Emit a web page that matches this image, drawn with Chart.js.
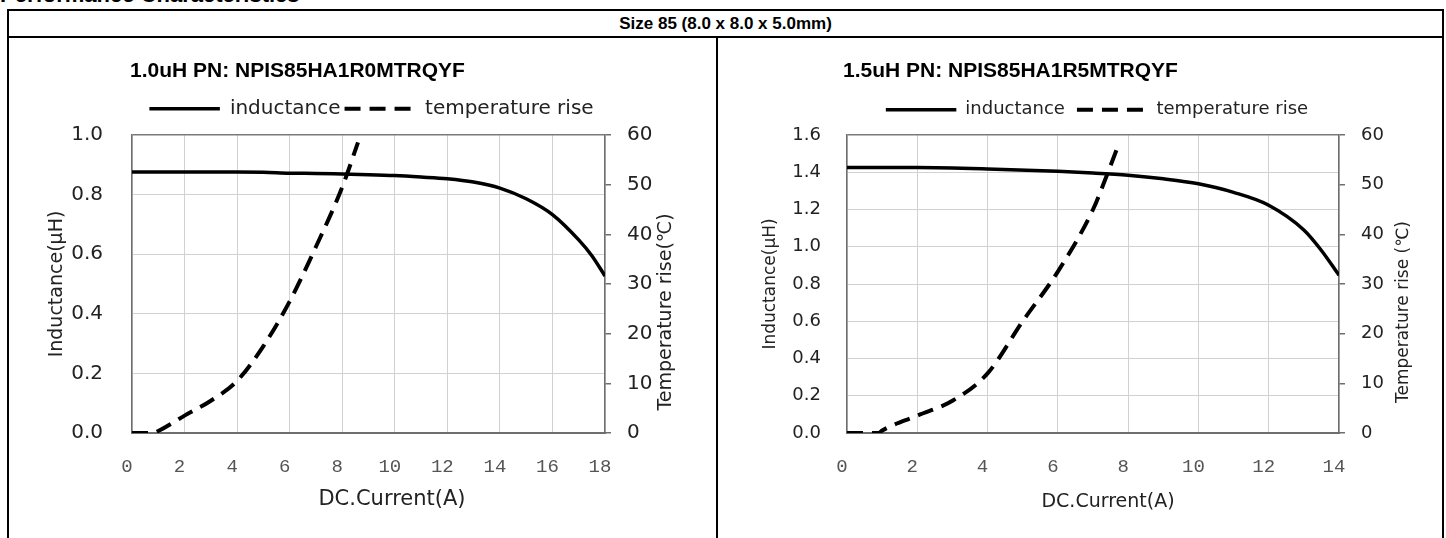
<!DOCTYPE html>
<html>
<head>
<meta charset="utf-8">
<title>Performance Characteristics</title>
<script src="https://cdn.jsdelivr.net/npm/chart.js@4.4.1/dist/chart.umd.min.js"></script>
<style>
  html, body { margin: 0; padding: 0; background: #fff; }
  #page { position: relative; width: 1446px; height: 538px; overflow: hidden; font-family: "Liberation Sans", Arial, sans-serif; color: #000; }
  .heading { position: absolute; left: 0; top: -16px; font-size: 22px; line-height: 22px; font-weight: bold; white-space: nowrap; }
  .frame { position: absolute; left: 7px; top: 9px; width: 1437px; height: 600px; border: 2px solid #000; box-sizing: border-box; background: #fff; }
  .hline { position: absolute; left: 7px; top: 36px; width: 1437px; height: 2px; background: #000; }
  .vline { position: absolute; left: 716px; top: 37px; width: 2px; height: 600px; background: #000; }
  .size { position: absolute; left: 7px; top: 14px; width: 1437px; text-align: center; font-size: 17px; line-height: 20px; font-weight: bold; }
  .ctitle { position: absolute; top: 59px; font-size: 21px; line-height: 22px; font-weight: bold; white-space: nowrap; }
  .panel { position: absolute; top: 37px; height: 501px; }
  .panel canvas { display: block; }
</style>
</head>
<body>
<div id="page">
  <div class="heading">Performance Characteristics</div>
  <div class="frame"></div>
  <div class="hline"></div>
  <div class="vline"></div>
  <div class="size">Size 85 (8.0 x 8.0 x 5.0mm)</div>
  <div class="panel" style="left:8px;width:708px"><canvas id="chartA" width="708" height="501"></canvas></div>
  <div class="panel" style="left:718px;width:724px"><canvas id="chartB" width="724" height="501"></canvas></div>
  <div class="ctitle" style="left:130px">1.0uH PN: NPIS85HA1R0MTRQYF</div>
  <div class="ctitle" style="left:843px">1.5uH PN: NPIS85HA1R5MTRQYF</div>
</div>
<script>
// 1.0uH part (left chart)
const currentA = [0, 2, 4, 5, 6, 7, 8, 9, 10, 11, 12, 13, 14, 15, 16, 17, 17.5, 18];
const inductanceA = [0.876, 0.876, 0.876, 0.875, 0.872, 0.871, 0.869, 0.867, 0.864, 0.859, 0.853, 0.842, 0.822, 0.786, 0.733, 0.648, 0.595, 0.527];
const tempCurrentA = [0, 0.8, 1, 2, 3, 4, 5, 6, 7, 8, 8.6];
const tempRiseA = [0, 0, 0.4, 3.5, 6.5, 10.5, 17.5, 26.5, 37.5, 49.5, 58.5];
const xTicksA = [0, 2, 4, 6, 8, 10, 12, 14, 16, 18];
const yTicksA = [0, 0.2, 0.4, 0.6, 0.8, 1.0];

// 1.5uH part (right chart)
const currentB = [0, 2, 4, 6, 7, 8, 9, 10, 11, 12, 13, 13.5, 14];
const inductanceB = [1.425, 1.425, 1.418, 1.405, 1.396, 1.384, 1.365, 1.338, 1.292, 1.223, 1.09, 0.98, 0.847];
const tempCurrentB = [0, 0.9, 1, 2, 3, 4, 5, 6, 7, 7.4, 7.75];
const tempRiseB = [0, 0, 0.5, 3.5, 6.5, 12, 22.5, 32.5, 45, 52, 58.5];
const xTicksB = [0, 2, 4, 6, 8, 10, 12, 14];
const yTicksB = [0, 0.2, 0.4, 0.6, 0.8, 1.0, 1.2, 1.4, 1.6];

const tempTicks = [0, 10, 20, 30, 40, 50, 60];

function points(xs, ys) {
    return xs.map((x, i) => ({ x: x, y: ys[i] }));
}

// x title sits a bit right of centre and the right title reads bottom-to-top,
// neither of which the built-in scale titles do, so draw them here
function axisTexts(items) {
    return {
        id: 'axisTexts',
        afterDraw(chart) {
            const ctx = chart.ctx;
            for (const t of items) {
                ctx.save();
                ctx.translate(t.x, t.y);
                if (t.vertical) ctx.rotate(-Math.PI / 2);
                ctx.font = t.size + 'px "DejaVu Sans"';
                ctx.fillStyle = '#222';
                ctx.textAlign = 'center';
                ctx.textBaseline = 'middle';
                ctx.fillText(t.text, 0, 0);
                ctx.restore();
            }
        }
    };
}

function buildChart(id, c) {
    const yMax = c.yTicks[c.yTicks.length - 1];
    return new Chart(document.getElementById(id), {
        type: 'line',
        data: {
            datasets: [{
                label: 'inductance',
                data: points(c.current, c.inductance),
                yAxisID: 'y',
                borderColor: '#000',
                backgroundColor: '#000',
                borderWidth: 3.5,
                pointRadius: 0,
                cubicInterpolationMode: 'monotone',
                fill: false
            },
            {
                label: 'temperature rise',
                data: points(c.tempCurrent, c.tempRise),
                yAxisID: 'y2',
                borderColor: '#000',
                backgroundColor: '#000',
                borderWidth: 4,
                borderDash: [16, 9],
                pointRadius: 0,
                cubicInterpolationMode: 'monotone',
                fill: false
            }]
        },
        plugins: [axisTexts([
            { text: 'DC.Current(A)', x: c.xTitleX, y: c.xTitleY, size: c.xTitleSize },
            { text: c.rightText, x: c.rightX, y: 275, size: c.axisTitleSize, vertical: true }
        ])],
        options: {
            responsive: false,
            animation: false,
            events: [],
            layout: { padding: { left: c.padLeft, top: 0, right: 0, bottom: 0 } },
            plugins: {
                title: { display: false },
                // empty subtitle below the legend, only used as a gap
                subtitle: {
                    display: true,
                    text: '',
                    weight: 500,
                    font: { size: 1 },
                    padding: { top: 5, bottom: 0 }
                },
                tooltip: { enabled: false },
                legend: {
                    position: 'top',
                    labels: {
                        // flat box so the dataset dash shows in the key
                        boxWidth: 70.5,
                        boxHeight: 0,
                        padding: c.legendPad,
                        color: '#222',
                        font: { family: 'DejaVu Sans', size: c.legendSize }
                    }
                }
            },
            scales: {
                x: {
                    type: 'linear',
                    min: 0,
                    max: c.xTicks[c.xTicks.length - 1],
                    afterBuildTicks: s => { s.ticks = c.xTicks.map(v => ({ value: v })); },
                    afterFit: s => { s.height = 105; },
                    grid: { color: '#d2d2d2', lineWidth: 1, drawTicks: false },
                    border: { color: '#6e6e6e', width: 2 },
                    ticks: {
                        font: { family: 'Liberation Mono', size: 19 },
                        color: '#555',
                        padding: 23,
                        labelOffset: -5,
                        maxRotation: 0
                    }
                },
                y: {
                    position: 'left',
                    min: 0,
                    max: yMax,
                    afterBuildTicks: s => { s.ticks = c.yTicks.map(v => ({ value: v })); },
                    afterFit: s => { s.width = c.yWidth; s.paddingTop = 98; },
                    grid: {
                        color: ctx => (ctx.tick && ctx.tick.value === yMax ? '#7a7a7a' : '#d2d2d2'),
                        lineWidth: ctx => (ctx.tick && ctx.tick.value === yMax ? 1.5 : 1),
                        drawTicks: false
                    },
                    border: { color: '#6e6e6e', width: 1.5 },
                    ticks: {
                        callback: v => v.toFixed(1),
                        color: '#222',
                        font: { family: 'DejaVu Sans', size: c.tickSize },
                        padding: c.yPad
                    },
                    title: {
                        display: true,
                        text: 'Inductance(μH)',
                        color: '#222',
                        font: { family: 'DejaVu Sans', size: c.axisTitleSize },
                        padding: { top: c.yTitlePad, bottom: 0 }
                    }
                },
                y2: {
                    position: 'right',
                    min: 0,
                    max: 60,
                    afterBuildTicks: s => { s.ticks = tempTicks.map(v => ({ value: v })); },
                    afterFit: s => { s.width = c.y2Width; },
                    grid: { drawOnChartArea: false, drawTicks: true, tickLength: 6, color: '#6e6e6e', lineWidth: 1.5 },
                    border: { color: '#6e6e6e', width: 1.5 },
                    ticks: {
                        color: '#222',
                        font: { family: 'DejaVu Sans', size: c.tickSize },
                        padding: 16
                    }
                }
            }
        }
    });
}

buildChart('chartA', {
    current: currentA, inductance: inductanceA,
    tempCurrent: tempCurrentA, tempRise: tempRiseA,
    xTicks: xTicksA, yTicks: yTicksA,
    padLeft: 19,
    legendPad: 4, legendSize: 20,
    yWidth: 105, y2Width: 111, yPad: 29, yTitlePad: 19,
    tickSize: 20, axisTitleSize: 19,
    xTitleSize: 21, xTitleX: 384, xTitleY: 463,
    rightText: 'Temperature rise(℃)', rightX: 658
});

buildChart('chartB', {
    current: currentB, inductance: inductanceB,
    tempCurrent: tempCurrentB, tempRise: tempRiseB,
    xTicks: xTicksB, yTicks: yTicksB,
    padLeft: 34,
    legendPad: 12, legendSize: 18,
    yWidth: 95, y2Width: 103, yPad: 26, yTitlePad: 8,
    tickSize: 18, axisTitleSize: 17,
    xTitleSize: 19, xTitleX: 390, xTitleY: 465,
    rightText: 'Temperature rise (℃)', rightX: 686
});
</script>
</body>
</html>
